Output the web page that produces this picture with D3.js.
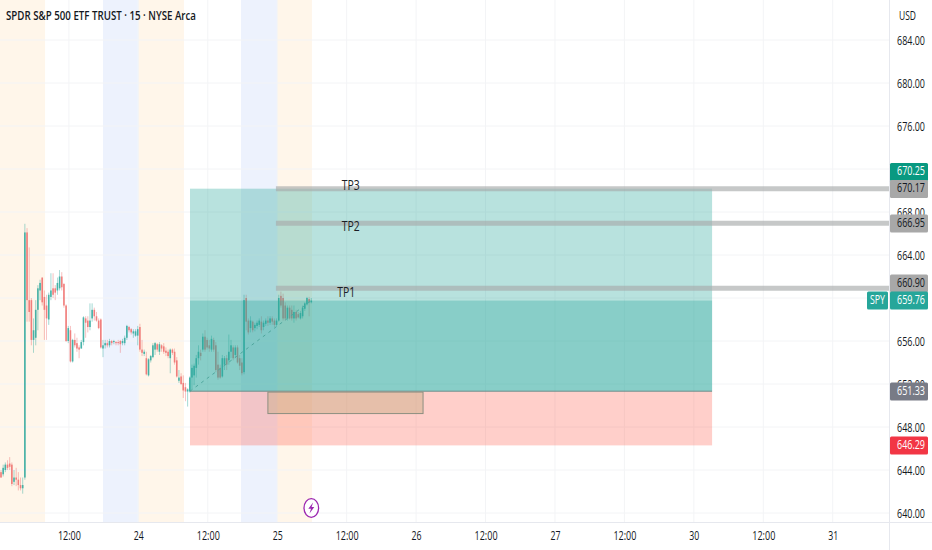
<!DOCTYPE html>
<html>
<head>
<meta charset="utf-8">
<script src="https://cdnjs.cloudflare.com/ajax/libs/d3/7.8.5/d3.min.js"></script>
<style>
  html, body { margin: 0; padding: 0; background: #fff; }
  svg { display: block; }
  text { font-family: "Open Sans", sans-serif; }
</style>
</head>
<body>
<svg width="932" height="550"></svg>
<script>
// 15 minute bars
const opens = [
  643.8,643.6,644.0,644.5,644.6,644.5,642.9,643.3,643.1,642.6,642.3,643.3,666.1,659.8,659.8,656.1,
  656.3,658.9,660.7,661.9,660.1,659.3,658.0,660.1,660.9,660.9,660.7,660.9,662.0,661.3,659.3,656.0,
  657.0,654.1,656.1,655.8,655.4,655.3,655.9,658.1,657.9,657.3,658.1,658.9,658.3,657.9,658.0,655.3,
  655.6,655.8,655.6,656.0,655.9,655.9,655.9,656.0,655.8,655.8,656.3,657.3,657.1,656.7,656.5,656.5,
  657.3,655.2,654.8,654.4,652.8,654.2,654.5,655.2,655.7,655.0,655.6,655.5,655.1,655.0,654.4,655.2,
  655.0,654.2,652.3,652.7,652.1,651.7,651.3,651.3,652.6,652.8,653.5,654.4,654.9,655.2,656.4,656.1,
  655.6,655.2,656.1,655.6,653.8,653.5,652.7,653.8,654.4,654.2,655.0,655.4,654.7,655.4,654.4,654.0,
  653.1,660.0,657.9,657.2,657.8,657.2,657.4,657.5,657.8,657.3,657.6,657.9,657.7,658.1,657.9,657.5,
  657.9,660.2,660.0,659.3,658.1,659.1,658.9,658.1,658.7,658.5,658.1,658.3,659.0,659.4,659.9,659.6
];
const highs = [
  644.0,644.5,644.7,644.9,645.2,644.7,644.0,644.2,643.8,643.3,643.3,666.9,666.5,664.7,660.0,658.1,
  659.8,661.2,661.7,661.9,660.7,660.3,660.5,662.3,662.3,661.2,661.9,662.6,662.4,661.4,659.4,657.4,
  657.4,656.2,656.7,656.3,655.6,656.1,658.3,658.3,658.3,659.5,659.5,659.1,658.7,658.1,658.1,656.1,
  656.1,656.1,656.2,656.1,656.1,656.0,656.1,656.1,656.2,656.5,657.5,657.4,657.2,657.1,657.1,657.4,
  657.6,656.1,655.2,655.0,654.4,654.7,655.8,655.9,655.8,655.9,655.7,655.8,655.4,655.2,655.3,655.3,
  655.3,654.5,653.3,653.0,652.8,652.1,651.6,652.7,653.8,653.9,654.7,655.6,655.2,656.7,657.0,656.3,
  656.1,656.5,656.3,655.9,655.0,653.8,654.7,654.6,654.7,656.6,656.1,655.6,655.6,655.6,654.7,654.4,
  660.3,660.3,658.1,658.3,657.9,657.7,657.9,658.1,658.3,657.9,658.1,658.3,658.3,658.3,658.1,658.1,
  660.3,660.6,660.4,659.6,659.3,659.3,659.3,659.3,658.9,658.7,658.8,659.3,659.6,660.1,660.1,660.0
];
const lows = [
  643.3,643.4,643.8,644.0,644.0,642.5,642.6,642.5,642.1,642.1,641.8,643.1,657.8,657.8,655.6,654.9,
  655.6,657.0,659.8,659.3,656.1,656.1,657.5,659.8,660.0,659.8,660.3,660.7,660.7,659.1,655.9,655.8,
  654.0,654.0,655.4,655.0,654.4,655.3,655.6,656.3,656.8,657.0,657.8,657.9,657.8,657.1,655.3,654.5,
  655.3,655.4,655.4,655.6,655.7,655.6,655.6,654.9,655.6,655.6,656.1,656.8,656.6,656.3,656.4,655.6,
  655.0,654.6,654.6,652.8,652.7,654.0,654.4,654.7,655.0,654.7,655.0,654.8,654.6,654.4,653.0,654.7,
  653.8,652.6,652.1,651.9,650.7,650.4,649.9,651.2,651.5,651.9,652.6,653.8,654.2,655.0,655.0,655.2,
  655.0,655.0,655.0,653.1,652.4,652.5,652.6,653.3,653.3,653.8,654.4,654.2,654.4,653.9,653.3,652.8,
  652.9,657.0,656.6,656.8,656.8,656.9,657.1,657.3,656.7,657.0,657.4,657.4,657.5,657.5,657.3,657.4,
  657.8,659.1,657.9,657.9,657.9,658.0,657.9,657.7,657.9,658.1,658.0,658.1,658.8,659.3,658.3,659.5
];
const closes = [
  643.3,644.2,644.5,644.2,644.3,642.7,643.3,643.1,642.6,642.3,642.6,666.1,659.8,658.7,656.1,657.0,
  658.9,660.9,661.4,659.6,658.9,658.1,660.3,660.7,660.3,660.5,661.4,662.0,661.0,659.3,656.0,657.2,
  654.1,656.1,655.6,655.3,655.2,655.9,658.2,657.7,657.3,657.9,658.9,658.3,657.9,657.2,655.4,655.6,
  655.8,655.6,656.0,655.8,656.0,655.8,655.8,655.7,656.0,656.3,657.4,657.0,656.8,656.9,656.9,657.1,
  655.2,654.9,655.0,652.9,654.3,654.6,655.6,655.8,655.2,655.7,655.3,655.0,654.9,654.6,655.2,654.9,
  654.0,652.7,652.6,652.0,651.4,651.3,651.5,652.6,653.5,653.7,654.4,655.0,654.6,656.4,655.2,655.4,
  655.3,656.2,655.2,653.3,652.6,652.6,654.4,654.4,653.8,655.0,655.6,654.4,655.4,654.0,653.7,653.0,
  659.8,657.8,656.8,657.9,657.0,657.5,657.7,657.9,657.0,657.7,657.9,657.7,658.1,657.8,657.5,657.9,
  660.0,659.3,658.1,658.1,659.1,658.1,658.1,658.7,658.1,658.2,658.6,659.1,659.5,660.0,659.6,659.76
];

const priceTicks = [640, 644, 648, 652, 656, 660, 664, 668, 672, 676, 680, 684];
const timeTicks = [31.3, 63.3, 95.3, 127.3, 159.3, 191.3, 223.3, 255.3, 287.3, 319.3, 351.3, 383.3];
const timeLabels = ['12:00', '24', '12:00', '25', '12:00', '26', '12:00', '27', '12:00', '30', '12:00', '31'];

// session shading, in bars
const sessionStart = [-1, 47, 63.1, 110.6, 127.2];
const sessionEnd = [20.3, 63.1, 84.3, 127.2, 143.3];
const sessionKind = ['ext', 'pre', 'ext', 'pre', 'ext'];

// position tool
const entryPrice = 651.33;
const targetPrice = 670.17;
const stopPrice = 646.29;
const lastPrice = 659.76;
const toolStart = 87.1;
const toolEnd = 327.7;

const tpNames = ['TP3', 'TP2', 'TP1'];
const tpPrices = [670.17, 666.95, 660.9];
const tpLabelBars = [157, 157, 155];
const tpLabelPrices = [670.4, 666.6, 660.45];

const width = 932;
const height = 550;
const axisX = 889;
const axisY = 522;

const svg = d3.select('svg');
const x = d3.scaleLinear().domain([0, 143]).range([1, 311.3]);
const y = d3.scaleLinear().domain([640, 684]).range([513, 40]);

// the reference type is squeezed sideways, so fit each string to its measured width
function squeeze(sel, w) {
  sel.attr('textLength', w).attr('lengthAdjust', 'spacingAndGlyphs');
}

// session bands
svg.append('g')
  .selectAll('rect')
  .data(sessionStart)
  .enter()
  .append('rect')
  .attr('x', (d) => x(d))
  .attr('y', 0)
  .attr('width', (d, i) => x(sessionEnd[i]) - x(d))
  .attr('height', axisY)
  .attr('fill', (d, i) => (sessionKind[i] === 'ext' ? '#fff6ea' : '#edf2fd'));

// grid
svg.append('g')
  .selectAll('line')
  .data(priceTicks)
  .enter()
  .append('line')
  .attr('x1', 0)
  .attr('x2', axisX)
  .attr('y1', (d) => y(d))
  .attr('y2', (d) => y(d))
  .attr('stroke', '#f3f4f6');
svg.append('g')
  .selectAll('line')
  .data(timeTicks)
  .enter()
  .append('line')
  .attr('x1', (d) => x(d))
  .attr('x2', (d) => x(d))
  .attr('y1', 0)
  .attr('y2', axisY)
  .attr('stroke', '#f3f4f6');

// candles
const upColor = '#26a69a';
const downColor = '#ef6a68';
const bars = svg.append('g').attr('opacity', 0.85);
bars.selectAll('line')
  .data(opens)
  .enter()
  .append('line')
  .attr('x1', (d, i) => x(i))
  .attr('x2', (d, i) => x(i))
  .attr('y1', (d, i) => y(highs[i]))
  .attr('y2', (d, i) => y(lows[i]))
  .attr('stroke', (d, i) => (closes[i] >= d ? upColor : downColor))
  .attr('stroke-width', 0.8)
  .attr('opacity', 0.6);
bars.selectAll('rect')
  .data(opens)
  .enter()
  .append('rect')
  .attr('x', (d, i) => x(i) - 0.8)
  .attr('width', 1.6)
  .attr('y', (d, i) => y(Math.max(d, closes[i])))
  .attr('height', (d, i) => Math.max(0.8, Math.abs(y(d) - y(closes[i]))))
  .attr('fill', (d, i) => (closes[i] >= d ? upColor : downColor));

// position tool, drawn over the candles
const zone = svg.append('g');
zone.append('rect')
  .attr('x', x(toolStart))
  .attr('width', x(toolEnd) - x(toolStart))
  .attr('y', y(targetPrice))
  .attr('height', y(entryPrice) - y(targetPrice))
  .attr('fill', 'rgba(38,166,154,0.33)');
zone.append('rect')
  .attr('x', x(toolStart))
  .attr('width', x(toolEnd) - x(toolStart))
  .attr('y', y(lastPrice))
  .attr('height', y(entryPrice) - y(lastPrice))
  .attr('fill', 'rgba(38,166,154,0.33)');
zone.append('rect')
  .attr('x', x(toolStart))
  .attr('width', x(toolEnd) - x(toolStart))
  .attr('y', y(entryPrice))
  .attr('height', y(stopPrice) - y(entryPrice))
  .attr('fill', 'rgba(255,82,64,0.28)');
zone.append('line')
  .attr('x1', x(toolStart))
  .attr('x2', x(toolEnd))
  .attr('y1', y(entryPrice))
  .attr('y2', y(entryPrice))
  .attr('stroke', '#6f8f8b')
  .attr('stroke-width', 1);
zone.append('line')
  .attr('x1', x(toolStart))
  .attr('x2', x(143))
  .attr('y1', y(entryPrice))
  .attr('y2', y(lastPrice))
  .attr('stroke', '#4fa79d')
  .attr('stroke-dasharray', '3,4');

// supply box
svg.append('rect')
  .attr('x', x(123))
  .attr('width', x(194.5) - x(123))
  .attr('y', y(651.25))
  .attr('height', y(649.25) - y(651.25))
  .attr('fill', 'rgba(200,170,130,0.45)')
  .attr('stroke', '#8d8f80');

// target lines
svg.append('g')
  .selectAll('line')
  .data(tpPrices)
  .enter()
  .append('line')
  .attr('x1', x(126.7))
  .attr('x2', axisX)
  .attr('y1', (d) => y(d))
  .attr('y2', (d) => y(d))
  .attr('stroke', '#a8aaaa')
  .attr('stroke-opacity', 0.65)
  .attr('stroke-width', 5);
svg.append('g')
  .selectAll('text')
  .data(tpNames)
  .enter()
  .append('text')
  .attr('x', (d, i) => x(tpLabelBars[i]))
  .attr('y', (d, i) => y(tpLabelPrices[i]))
  .attr('dominant-baseline', 'middle')
  .attr('font-size', 15)
  .attr('fill', '#1a1e25')
  .text((d) => d)
  .call(squeeze, 18);

// axes
const xAxis = d3.axisBottom(x)
  .tickValues(timeTicks)
  .tickSize(0)
  .tickPadding(9)
  .tickFormat((d, i) => timeLabels[i]);
const yAxis = d3.axisRight(y)
  .tickValues(priceTicks)
  .tickSize(0)
  .tickPadding(8)
  .tickFormat(d3.format('.2f'));
const gx = svg.append('g')
  .attr('transform', `translate(0,${axisY})`)
  .call(xAxis);
const gy = svg.append('g')
  .attr('transform', `translate(${axisX},0)`)
  .call(yAxis);
gx.select('.domain').remove();
gy.select('.domain').remove();
gx.selectAll('text')
  .attr('font-size', 13)
  .attr('fill', '#131722')
  .attr('textLength', (d, i) => (timeLabels[i].length > 2 ? 23 : 10))
  .attr('lengthAdjust', 'spacingAndGlyphs');
gy.selectAll('text')
  .attr('font-size', 13)
  .attr('fill', '#131722')
  .call(squeeze, 28);

svg.append('line')
  .attr('x1', 0).attr('x2', width)
  .attr('y1', axisY + 0.5).attr('y2', axisY + 0.5)
  .attr('stroke', '#e6e8ee');
svg.append('line')
  .attr('x1', axisX + 0.5).attr('x2', axisX + 0.5)
  .attr('y1', 0).attr('y2', height)
  .attr('stroke', '#e6e8ee');

// price tags, stacked the way the platform moves them apart
const tagValues = ['670.25', '670.17', '666.95', '660.90', '659.76', '651.33', '646.29'];
const tagCenters = [172, 189, 223.5, 283.5, 300.6, 391.5, 445.5];
const tagFills = ['#089981', '#a8a8a8', '#a8a8a8', '#a8a8a8', '#26a69a', '#787b86', '#f23645'];
const tagInk = ['#fff', '#131722', '#131722', '#131722', '#fff', '#fff', '#fff'];
const tags = svg.append('g');
tags.selectAll('rect')
  .data(tagValues)
  .enter()
  .append('rect')
  .attr('x', axisX + 1)
  .attr('width', 38)
  .attr('y', (d, i) => tagCenters[i] - 9)
  .attr('height', 18)
  .attr('rx', 1.5)
  .attr('fill', (d, i) => tagFills[i]);
tags.selectAll('text')
  .data(tagValues)
  .enter()
  .append('text')
  .attr('x', axisX + 8)
  .attr('y', (d, i) => tagCenters[i])
  .attr('dominant-baseline', 'middle')
  .attr('font-size', 13)
  .attr('fill', (d, i) => tagInk[i])
  .text((d) => d)
  .call(squeeze, 28);

// symbol tag next to the last price
svg.append('rect')
  .attr('x', 867)
  .attr('width', 21)
  .attr('y', 291.6)
  .attr('height', 18)
  .attr('rx', 1.5)
  .attr('fill', '#26a69a');
svg.append('text')
  .attr('x', 870)
  .attr('y', 300.6)
  .attr('dominant-baseline', 'middle')
  .attr('font-size', 13)
  .attr('fill', '#fff')
  .text('SPY')
  .call(squeeze, 15);

svg.append('text')
  .attr('x', 899)
  .attr('y', 17)
  .attr('dominant-baseline', 'middle')
  .attr('font-size', 13)
  .attr('fill', '#131722')
  .text('USD')
  .call(squeeze, 17);

svg.append('text')
  .attr('x', 6)
  .attr('y', 17)
  .attr('dominant-baseline', 'middle')
  .attr('font-size', 13)
  .attr('font-weight', 600)
  .attr('fill', '#131722')
  .text('SPDR S&P 500 ETF TRUST · 15 · NYSE Arca')
  .call(squeeze, 190);

// earnings style marker at the last bar
const mark = svg.append('g').attr('transform', `translate(${x(143)},508)`);
mark.append('ellipse')
  .attr('rx', 7.3)
  .attr('ry', 9.3)
  .attr('fill', '#fff')
  .attr('stroke', '#9c27b0')
  .attr('stroke-width', 1.3);
mark.append('path')
  .attr('d', 'M1.8,-5.5 L-3,0.8 L-0.3,0.8 L-1.8,5.5 L3,-1 L0.3,-1 Z')
  .attr('fill', '#9c27b0');
</script>
</body>
</html>
